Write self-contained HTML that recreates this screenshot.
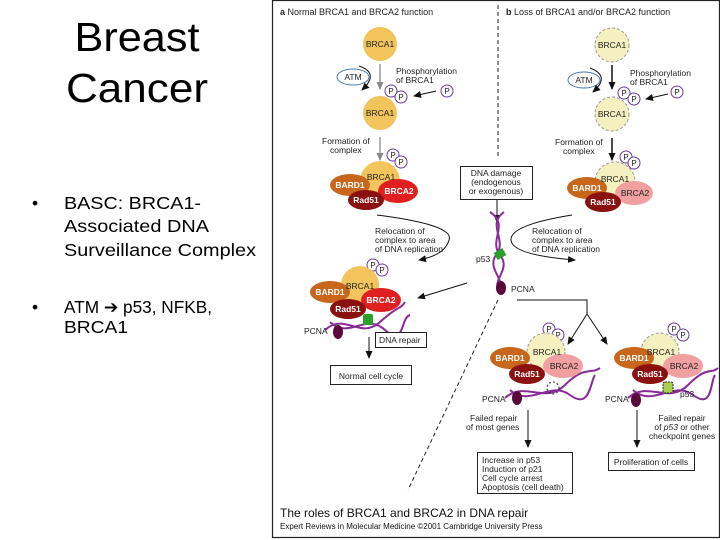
<!DOCTYPE html>
<html><head><style>
body{margin:0;width:720px;height:540px;background:#fff;overflow:hidden}
svg{display:block}
</style></head><body>
<svg width="720" height="540" viewBox="0 0 720 540" font-family="Liberation Sans, sans-serif">
<defs>
<marker id="a" markerWidth="8" markerHeight="8" refX="7" refY="4" orient="auto" markerUnits="userSpaceOnUse"><path d="M0,0.5 L8,4 L0,7.5 z" fill="#111"/></marker>
<marker id="g" markerWidth="8" markerHeight="8" refX="7" refY="4" orient="auto" markerUnits="userSpaceOnUse"><path d="M0,0.5 L8,4 L0,7.5 z" fill="#888"/></marker>
</defs>
<!-- left text -->
<text x="137" y="51" font-size="41" text-anchor="middle" fill="#000" textLength="125" lengthAdjust="spacingAndGlyphs">Breast</text>
<text x="137" y="102" font-size="41" text-anchor="middle" fill="#000" textLength="142" lengthAdjust="spacingAndGlyphs">Cancer</text>
<g font-size="17.5" fill="#000" font-family="Liberation Sans, sans-serif">
<text x="32" y="209">•</text><text x="64" y="209" textLength="137" lengthAdjust="spacingAndGlyphs">BASC: BRCA1-</text>
<text x="64" y="232" textLength="145" lengthAdjust="spacingAndGlyphs">Associated DNA</text>
<text x="64" y="256" textLength="192" lengthAdjust="spacingAndGlyphs">Surveillance Complex</text>
<text x="32" y="313">•</text><text x="64" y="313" textLength="148" lengthAdjust="spacingAndGlyphs">ATM ➔ p53, NFKB,</text>
<text x="64" y="333" textLength="64" lengthAdjust="spacingAndGlyphs">BRCA1</text>
</g>
<!-- panel -->
<rect x="272.5" y="0.5" width="447" height="537" fill="none" stroke="#222" stroke-width="1.2"/>
<g font-size="9" fill="#222">
<text x="280" y="15"><tspan font-weight="bold">a</tspan> Normal BRCA1 and BRCA2 function</text>
<text x="506" y="15"><tspan font-weight="bold">b</tspan> Loss of BRCA1 and/or BRCA2 function</text>
</g>
<line x1="498" y1="5" x2="498" y2="158" stroke="#222" stroke-dasharray="4,3"/>
<line x1="498" y1="300" x2="408" y2="490" stroke="#222" stroke-dasharray="4,3"/>

<!-- panel a top -->
<g font-size="8.5" fill="#222">
<circle cx="380" cy="44" r="17" fill="#f2c45c"/><text x="380" y="47" text-anchor="middle">BRCA1</text>
<line x1="380" y1="64" x2="380" y2="89" stroke="#999" stroke-width="1.5" marker-end="url(#g)"/>
<ellipse cx="353" cy="77" rx="16" ry="8" fill="#fff" stroke="#4a7ab0"/><text x="353" y="80" text-anchor="middle">ATM</text>
<path d="M359,66 Q380,73 362,90" fill="none" stroke="#111" marker-end="url(#a)"/>
<text x="396" y="74">Phosphorylation</text><text x="396" y="83">of BRCA1</text>
<line x1="436" y1="91" x2="414" y2="96" stroke="#111" marker-end="url(#a)"/>
<circle cx="380" cy="113" r="17" fill="#f2c45c"/><text x="380" y="116" text-anchor="middle">BRCA1</text>
<text x="322" y="144">Formation of</text><text x="330" y="153">complex</text>
<line x1="380" y1="137" x2="380" y2="160" stroke="#999" stroke-width="1.5" marker-end="url(#g)"/>
<circle cx="380" cy="181" r="20" fill="#f2c45c"/>
<ellipse cx="350" cy="185" rx="20" ry="11" fill="#c8661c"/>
<ellipse cx="398" cy="191" rx="20" ry="12" fill="#e02020"/>
<ellipse cx="366" cy="200" rx="18" ry="10" fill="#8b1010"/>
<text x="381" y="180" text-anchor="middle">BRCA1</text>
<text x="350" y="188" text-anchor="middle" fill="#fff" font-weight="bold">BARD1</text>
<text x="399" y="194" text-anchor="middle" fill="#fff" font-weight="bold">BRCA2</text>
<text x="366" y="203" text-anchor="middle" fill="#fff" font-weight="bold">Rad51</text>
</g>
<!-- panel b top -->
<g font-size="8.5" fill="#222">
<circle cx="612" cy="45" r="17" fill="#f5f0c0" stroke="#999" stroke-dasharray="3,2"/><text x="612" y="48" text-anchor="middle">BRCA1</text>
<line x1="612" y1="65" x2="612" y2="89" stroke="#111" stroke-width="1.5" marker-end="url(#a)"/>
<ellipse cx="584" cy="80" rx="16" ry="8" fill="#fff" stroke="#4a7ab0"/><text x="584" y="83" text-anchor="middle">ATM</text>
<path d="M590,68 Q611,76 593,92" fill="none" stroke="#111" marker-end="url(#a)"/>
<text x="630" y="76">Phosphorylation</text><text x="630" y="85">of BRCA1</text>
<line x1="668" y1="94" x2="646" y2="99" stroke="#111" marker-end="url(#a)"/>
<circle cx="612" cy="114" r="17" fill="#f5f0c0" stroke="#999" stroke-dasharray="3,2"/><text x="612" y="117" text-anchor="middle">BRCA1</text>
<text x="555" y="145">Formation of</text><text x="563" y="154">complex</text>
<line x1="612" y1="138" x2="612" y2="160" stroke="#111" stroke-width="1.5" marker-end="url(#a)"/>
<circle cx="615" cy="182" r="20" fill="#f5f0c0" stroke="#999" stroke-dasharray="3,2"/>
<ellipse cx="634" cy="193" rx="19" ry="12" fill="#f0a0a0"/>
<ellipse cx="587" cy="188" rx="20" ry="11" fill="#c8661c"/>
<ellipse cx="603" cy="202" rx="18" ry="10" fill="#8b1010"/>
<text x="615" y="182" text-anchor="middle">BRCA1</text>
<text x="587" y="191" text-anchor="middle" fill="#fff" font-weight="bold">BARD1</text>
<text x="635" y="196" text-anchor="middle">BRCA2</text>
<text x="603" y="205" text-anchor="middle" fill="#fff" font-weight="bold">Rad51</text>
</g>
<!-- P circles -->
<g font-size="8" fill="#222" text-anchor="middle">
<g fill="#fff" stroke="#6a3aa0">
<circle cx="391" cy="91" r="6"/><circle cx="401" cy="97" r="6"/><circle cx="447" cy="91" r="6"/>
<circle cx="393" cy="155" r="6"/><circle cx="401" cy="162" r="6"/>
<circle cx="624" cy="93" r="6"/><circle cx="634" cy="99" r="6"/><circle cx="677" cy="92" r="6"/>
<circle cx="626" cy="157" r="6"/><circle cx="634" cy="163" r="6"/>
<circle cx="373" cy="265" r="6"/><circle cx="382" cy="270" r="6"/>
<circle cx="549" cy="329" r="6"/><circle cx="558" cy="335" r="6"/>
<circle cx="674" cy="329" r="6"/><circle cx="683" cy="335" r="6"/>
</g>
<text x="391" y="94">P</text><text x="401" y="100">P</text><text x="447" y="94">P</text>
<text x="393" y="158">P</text><text x="401" y="165">P</text>
<text x="624" y="96">P</text><text x="634" y="102">P</text><text x="677" y="95">P</text>
<text x="626" y="160">P</text><text x="634" y="166">P</text>
<text x="373" y="268">P</text><text x="382" y="273">P</text>
<text x="549" y="332">P</text><text x="558" y="338">P</text>
<text x="674" y="332">P</text><text x="683" y="338">P</text>
</g>
<!-- centre -->
<g font-size="8.5" fill="#222">
<rect x="460.5" y="166.5" width="72" height="33" fill="#fff" stroke="#222"/>
<text x="496" y="176" text-anchor="middle">DNA damage</text>
<text x="496" y="185" text-anchor="middle">(endogenous</text>
<text x="496" y="194" text-anchor="middle">or exogenous)</text>
<line x1="497" y1="200" x2="497" y2="222" stroke="#111" marker-end="url(#a)"/>
<path d="M490,212 C510,225 488,240 500,255 C512,270 490,280 500,292" fill="none" stroke="#8a2a9a" stroke-width="2"/>
<path d="M504,212 C486,225 508,240 496,255 C486,270 508,280 498,292" fill="none" stroke="#8a2a9a" stroke-width="2"/>
<rect x="495" y="250" width="10" height="8" fill="#2aa02a" transform="rotate(-30 500 254)"/>
<text x="476" y="262">p53</text>
<ellipse cx="501" cy="288" rx="5" ry="7" fill="#5a0a3a"/>
<text x="511" y="292">PCNA</text>
<path d="M377,215 Q455,225 449,240 Q445,255 419,260" fill="none" stroke="#111" marker-end="url(#a)"/>
<path d="M572,215 Q510,225 511,240 Q512,255 575,260" fill="none" stroke="#111" marker-end="url(#a)"/>
<text x="375" y="234">Relocation of</text><text x="375" y="243">complex to area</text><text x="375" y="252">of DNA replication</text>
<text x="532" y="234">Relocation of</text><text x="532" y="243">complex to area</text><text x="532" y="252">of DNA replication</text>
<line x1="467" y1="283" x2="418" y2="298" stroke="#111" marker-end="url(#a)"/>
<path d="M517,300 H587 V314" fill="none" stroke="#111"/>
<line x1="587" y1="314" x2="568" y2="344" stroke="#111" marker-end="url(#a)"/>
<line x1="587" y1="314" x2="607" y2="344" stroke="#111" marker-end="url(#a)"/>
</g>
<!-- lower-left complex -->
<g font-size="8.5" fill="#222">
<path d="M325,330 C345,312 360,340 380,322 S400,310 405,302" fill="none" stroke="#8a2a9a" stroke-width="2"/>
<path d="M330,322 C350,340 365,312 385,330 S400,318 410,315" fill="none" stroke="#8a2a9a" stroke-width="2"/>
<circle cx="360" cy="285" r="19" fill="#f2c45c"/>
<ellipse cx="330" cy="292" rx="20" ry="11" fill="#c8661c"/>
<ellipse cx="381" cy="300" rx="20" ry="12" fill="#e02020"/>
<ellipse cx="348" cy="309" rx="18" ry="10" fill="#8b1010"/>
<rect x="363" y="314" width="10" height="11" rx="2" fill="#2aa02a"/>
<ellipse cx="338" cy="332" rx="5" ry="7" fill="#5a0a3a"/>
<text x="360" y="289" text-anchor="middle">BRCA1</text>
<text x="330" y="295" text-anchor="middle" fill="#fff" font-weight="bold">BARD1</text>
<text x="381" y="303" text-anchor="middle" fill="#fff" font-weight="bold">BRCA2</text>
<text x="348" y="312" text-anchor="middle" fill="#fff" font-weight="bold">Rad51</text>
<text x="304" y="334">PCNA</text>
<rect x="375.5" y="332.5" width="51" height="15" fill="#fff" stroke="#222"/>
<text x="379" y="343">DNA repair</text>
<line x1="369" y1="337" x2="369" y2="358" stroke="#111" marker-end="url(#a)"/>
<rect x="330.5" y="365.5" width="81" height="19" fill="#fff" stroke="#222"/>
<text x="371" y="379" text-anchor="middle">Normal cell cycle</text>
</g>
<!-- mid complex -->
<g font-size="8.5" fill="#222">
<path d="M505,398 C525,380 545,405 565,385 S590,375 600,368" fill="none" stroke="#8a2a9a" stroke-width="2"/>
<path d="M510,390 C530,408 550,380 570,395 S590,382 595,375" fill="none" stroke="#8a2a9a" stroke-width="2"/>
<circle cx="546" cy="352" r="19" fill="#f5f0c0" stroke="#999" stroke-dasharray="3,2"/>
<ellipse cx="510" cy="358" rx="20" ry="11" fill="#c8661c"/>
<ellipse cx="563" cy="366" rx="20" ry="12" fill="#f0a0a0"/>
<ellipse cx="527" cy="374" rx="18" ry="10" fill="#8b1010"/>
<circle cx="553" cy="388" r="6" fill="none" stroke="#222" stroke-dasharray="2,2"/>
<ellipse cx="517" cy="398" rx="5" ry="7" fill="#5a0a3a"/>
<text x="547" y="355" text-anchor="middle">BRCA1</text>
<text x="510" y="361" text-anchor="middle" fill="#fff" font-weight="bold">BARD1</text>
<text x="564" y="369" text-anchor="middle">BRCA2</text>
<text x="527" y="377" text-anchor="middle" fill="#fff" font-weight="bold">Rad51</text>
<text x="482" y="402">PCNA</text>
<text x="470" y="421">Failed repair</text><text x="466" y="430">of most genes</text>
<line x1="528" y1="410" x2="528" y2="447" stroke="#111" marker-end="url(#a)"/>
<rect x="477.5" y="452.5" width="95" height="41" fill="#fff" stroke="#222"/>
<text x="482" y="463">Increase in p53</text><text x="482" y="472">Induction of p21</text>
<text x="482" y="481">Cell cycle arrest</text><text x="482" y="490">Apoptosis (cell death)</text>
</g>
<!-- right complex -->
<g font-size="8.5" fill="#222">
<path d="M628,398 C648,380 668,405 688,385 S710,375 718,368" fill="none" stroke="#8a2a9a" stroke-width="2"/>
<path d="M633,390 C653,408 673,380 693,395 S710,382 715,375" fill="none" stroke="#8a2a9a" stroke-width="2"/>
<circle cx="660" cy="352" r="19" fill="#f5f0c0" stroke="#999" stroke-dasharray="3,2"/>
<ellipse cx="634" cy="358" rx="20" ry="11" fill="#c8661c"/>
<ellipse cx="683" cy="366" rx="20" ry="12" fill="#f0a0a0"/>
<ellipse cx="650" cy="374" rx="18" ry="10" fill="#8b1010"/>
<rect x="663" y="382" width="10" height="11" rx="2" fill="#a8d050" stroke="#222" stroke-dasharray="2,1"/>
<ellipse cx="636" cy="400" rx="5" ry="7" fill="#5a0a3a"/>
<text x="661" y="355" text-anchor="middle">BRCA1</text>
<text x="634" y="361" text-anchor="middle" fill="#fff" font-weight="bold">BARD1</text>
<text x="684" y="369" text-anchor="middle">BRCA2</text>
<text x="650" y="377" text-anchor="middle" fill="#fff" font-weight="bold">Rad51</text>
<text x="680" y="397">p53</text>
<text x="605" y="402">PCNA</text>
<text x="682" y="421" text-anchor="middle">Failed repair</text>
<text x="682" y="430" text-anchor="middle">of <tspan font-style="italic">p53</tspan> or other</text>
<text x="682" y="439" text-anchor="middle">checkpoint genes</text>
<line x1="637" y1="410" x2="637" y2="447" stroke="#111" marker-end="url(#a)"/>
<rect x="608.5" y="452.5" width="86" height="18" fill="#fff" stroke="#222"/>
<text x="651" y="465" text-anchor="middle">Proliferation of cells</text>
</g>
<text x="280" y="517" font-size="12" fill="#111">The roles of BRCA1 and BRCA2 in DNA repair</text>
<text x="280" y="529" font-size="8" fill="#111">Expert Reviews in Molecular Medicine ©2001 Cambridge University Press</text>
</svg>
</body></html>
